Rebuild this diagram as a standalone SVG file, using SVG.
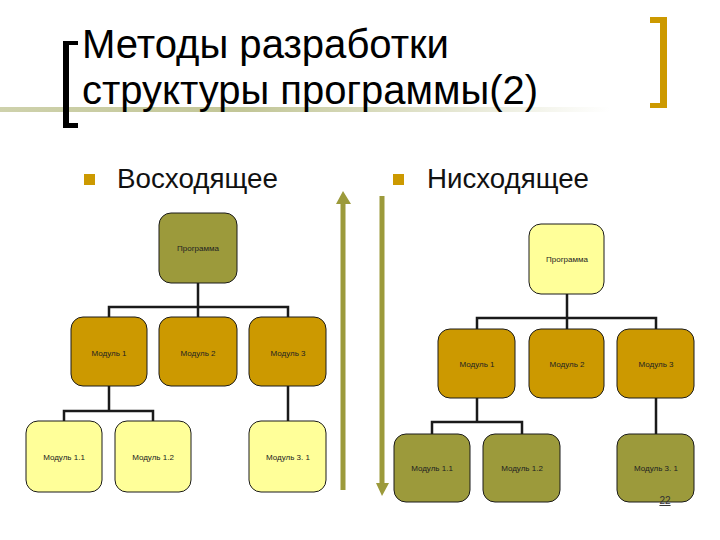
<svg xmlns="http://www.w3.org/2000/svg" width="720" height="540" viewBox="0 0 720 540">
<defs>
<linearGradient id="hl" x1="0" y1="0" x2="1" y2="0">
<stop offset="0" stop-color="#C2C697" stop-opacity="0.8"/>
<stop offset="0.4" stop-color="#C2C697" stop-opacity="1"/>
<stop offset="1" stop-color="#C2C697" stop-opacity="0"/>
</linearGradient>
<style>
.box{stroke:#1a1a1a;stroke-width:1}
.olive{fill:#9C9A3B}
.gold{fill:#CC9900}
.light{fill:#FFFF99}
.lbl{font-family:"Liberation Sans",Arial,sans-serif;font-size:8px;fill:#222;text-anchor:middle}
.conn{fill:none;stroke:#1a1a1a;stroke-width:2.5}
.title{font-family:"Liberation Sans",Arial,sans-serif;font-size:40px;fill:#000}
.head{font-family:"Liberation Sans",Arial,sans-serif;font-size:28px;fill:#111}
</style>
</defs>
<rect width="720" height="540" fill="#ffffff"/>
<rect x="0" y="107" width="610" height="5" fill="url(#hl)"/>
<g id="brackets">
<path d="M63 41 H78 V45 H69 V123 H78 V128 H63 Z" fill="#000"/>
<path d="M650 17 H667 V108 H650 V103 H660 V23 H650 Z" fill="#CC9900"/>
</g>
<g id="title">
<text class="title" x="82" y="58" textLength="367" lengthAdjust="spacingAndGlyphs">Методы разработки</text>
<text class="title" x="82" y="104" textLength="456" lengthAdjust="spacingAndGlyphs">структуры программы(2)</text>
</g>
<g id="headings">
<rect x="84" y="174" width="11" height="11" fill="#CC9900"/>
<text class="head" x="117" y="188" textLength="161" lengthAdjust="spacingAndGlyphs">Восходящее</text>
<rect x="393" y="174" width="11" height="11" fill="#CC9900"/>
<text class="head" x="427" y="188" textLength="162" lengthAdjust="spacingAndGlyphs">Нисходящее</text>
</g>
<g id="arrows" fill="#9C9A3B">
<path d="M340.5 490 V204 H336 L343 191 L351 204 H345.5 V490 Z"/>
<path d="M379.5 196 H384.5 V483 H389 L382 496 L376 483 H379.5 Z"/>
</g>
<g id="connectors">
<path class="conn" d="M198 283 V317 M109 317 V307 H288 V317 M109 386 V411 M64 421 V411 H153 V421 M288 386 V421"/>
<path class="conn" d="M567 294 V329 M477 329 V318 H656 V329 M477 398 V422 M432 434 V422 H522 V434 M656 398 V434"/>
</g>
<g id="L_prog"><rect class="box olive" x="159" y="213" width="78" height="70" rx="12"/><text class="lbl" x="198" y="251">Программа</text></g>
<g id="L_m1"><rect class="box gold" x="71" y="317" width="76" height="69" rx="12"/><text class="lbl" x="109" y="356">Модуль 1</text></g>
<g id="L_m2"><rect class="box gold" x="159" y="317" width="78" height="69" rx="12"/><text class="lbl" x="198" y="356">Модуль 2</text></g>
<g id="L_m3"><rect class="box gold" x="249" y="317" width="77" height="69" rx="12"/><text class="lbl" x="288" y="356">Модуль 3</text></g>
<g id="L_m11"><rect class="box light" x="26" y="421" width="76" height="71" rx="12"/><text class="lbl" x="64" y="460">Модуль 1.1</text></g>
<g id="L_m12"><rect class="box light" x="115" y="421" width="76" height="71" rx="12"/><text class="lbl" x="153" y="460">Модуль 1.2</text></g>
<g id="L_m31"><rect class="box light" x="249" y="421" width="77" height="71" rx="12"/><text class="lbl" x="288" y="460">Модуль 3. 1</text></g>
<g id="R_prog"><rect class="box light" x="529" y="224" width="75" height="70" rx="12"/><text class="lbl" x="567" y="262">Программа</text></g>
<g id="R_m1"><rect class="box gold" x="438" y="329" width="77" height="69" rx="12"/><text class="lbl" x="477" y="367">Модуль 1</text></g>
<g id="R_m2"><rect class="box gold" x="529" y="329" width="75" height="69" rx="12"/><text class="lbl" x="567" y="367">Модуль 2</text></g>
<g id="R_m3"><rect class="box gold" x="617" y="329" width="77" height="69" rx="12"/><text class="lbl" x="656" y="367">Модуль 3</text></g>
<g id="R_m11"><rect class="box olive" x="394" y="434" width="76" height="68" rx="12"/><text class="lbl" x="432" y="471">Модуль 1.1</text></g>
<g id="R_m12"><rect class="box olive" x="483" y="434" width="77" height="68" rx="12"/><text class="lbl" x="522" y="471">Модуль 1.2</text></g>
<g id="R_m31"><rect class="box olive" x="617" y="434" width="77" height="68" rx="12"/><text class="lbl" x="656" y="471">Модуль 3. 1</text></g>
<text x="665" y="504" font-family="Liberation Sans, Arial, sans-serif" font-size="10" fill="#333" text-anchor="middle" text-decoration="underline">22</text>
</svg>
